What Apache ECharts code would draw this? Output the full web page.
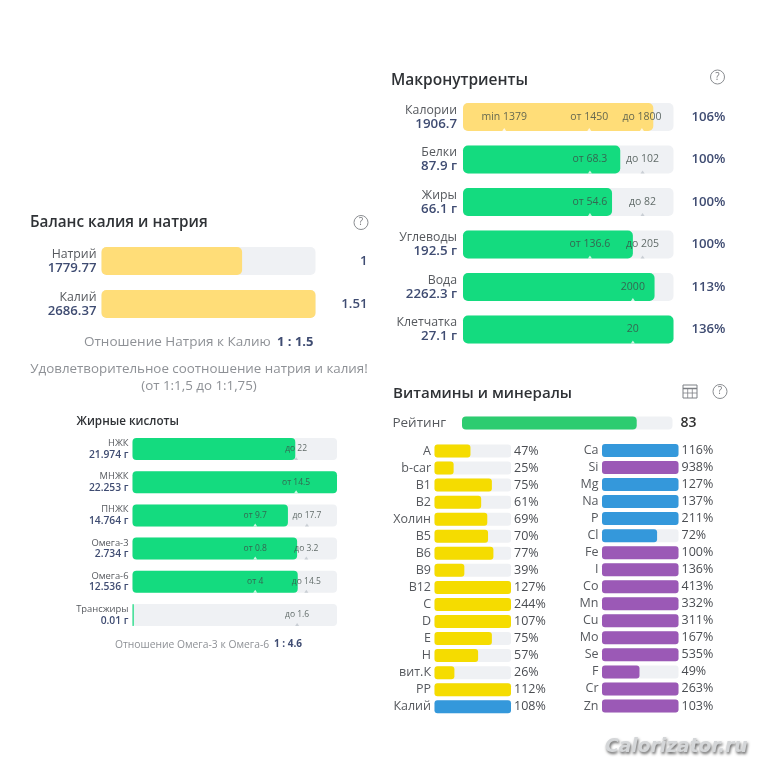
<!DOCTYPE html>
<html><head><meta charset="utf-8">
<style>html,body{margin:0;padding:0;background:#fff}#c{width:768px;height:768px}</style>
<script src="https://cdn.jsdelivr.net/npm/echarts@6/dist/echarts.min.js"></script>
</head><body><div id="c"></div>
<script>
// ---------- data ----------
const macroNames   = ['Калории','Белки','Жиры','Углеводы','Вода','Клетчатка'];
const macroAmounts = ['1906.7','87.9 г','66.1 г','192.5 г','2262.3 г','27.1 г'];
const macroFill    = [90.4,74.7,70.8,80.7,91,100];
const macroPct     = ['106%','100%','100%','100%','113%','136%'];
const macroMarkRow = [0,0,0,1,1,2,2,3,3,4,5];
const macroMarkPos = [19.6,60,85,60.3,85.3,60.3,85.3,60.3,85.3,80.7,80.7];
const macroMarkTxt = ['min 1379','от 1450','до 1800','от 68.3','до 102','от 54.6','до 82','от 136.6','до 205','2000','20'];

const balanceNames   = ['Натрий','Калий'];
const balanceAmounts = ['1779.77','2686.37'];
const balanceFill    = [65.7,100];
const balanceRight   = ['1','1.51'];

const fatNames   = ['НЖК','МНЖК','ПНЖК','Омега-3','Омега-6','Трансжиры'];
const fatAmounts = ['21.974 г','22.253 г','14.764 г','2.734 г','12.536 г','0.01 г'];
const fatFill    = [79.6,100,76,80.5,80.8,0.6];
const fatMarkRow = [0,1,2,2,3,3,4,4,5];
const fatMarkPos = [80,80,60,85.3,60,85,60,85,80.5];
const fatMarkTxt = ['до 22','от 14.5','от 9.7','до 17.7','от 0.8','до 3.2','от 4','до 14.5','до 1.6'];

const ratingValue = [83];

const vitNames = ['A','b-car','B1','B2','Холин','B5','B6','B9','B12','C','D','E','H','вит.К','PP','Калий'];
const vitPct   = [47,25,75,61,69,70,77,39,127,244,107,75,57,26,112,108];
const minNames = ['Ca','Si','Mg','Na','P','Cl','Fe','I','Co','Mn','Cu','Mo','Se','F','Cr','Zn'];
const minPct   = [116,938,127,137,211,72,100,136,413,332,311,167,535,49,263,103];
const minBlue  = ['Ca','Mg','Na','P','Cl'];

// ---------- palette ----------
const FONT='"Open Sans",sans-serif';
const TRACK='#eff1f4', GREEN='#14db7f', AMBER='#ffdd78', YEL='#f5dc00', BLUE='#3498db', PUR='#9b59b6', NAVY='#3f4c72', GREY='#56595e';

const grids=[],xAxes=[],yAxes=[],series=[];
function panel(o){
  const g=grids.length;
  grids.push({left:o.left,width:o.width,top:o.cy-o.pitch/2,height:o.pitch*o.names.length,containLabel:false});
  xAxes.push({gridIndex:g,type:'value',min:0,max:100,show:false});
  const leftLabel = o.amounts ? {
      show:true,interval:0,margin:o.margin,align:'right',fontFamily:FONT,
      formatter:(v,i)=>`{n|${v}}\n{v|${o.amounts[i]}}`,
      rich:{n:{fontFamily:FONT,fontSize:o.nameSize,color:GREY,lineHeight:o.lh,align:'right'},
            v:{fontFamily:FONT,fontSize:o.amtSize,fontWeight:600,color:NAVY,lineHeight:o.lh,align:'right'}}
    } : {show:true,interval:0,margin:o.margin,fontFamily:FONT,fontSize:o.nameSize,fontWeight:o.nameWeight||400,color:GREY};
  yAxes.push({gridIndex:g,type:'category',inverse:true,data:o.names,position:'left',
    axisLine:{show:false},axisTick:{show:false},splitLine:{show:false},axisLabel:leftLabel});
  yAxes.push({gridIndex:g,type:'category',inverse:true,data:o.right,position:'right',
    axisLine:{show:false},axisTick:{show:false},splitLine:{show:false},
    axisLabel:{show:true,interval:0,margin:o.rMargin,align:o.rAlign,fontFamily:FONT,fontSize:o.rSize,
      fontWeight:o.rWeight,color:o.rColor}});
  series.push({type:'bar',xAxisIndex:g,yAxisIndex:yAxes.length-2,data:o.fill.map((v,i)=>({value:v,itemStyle:{color:o.color(i)}})),
    barWidth:o.barH,silent:true,animation:false,showBackground:true,
    backgroundStyle:{color:TRACK,borderRadius:o.radius},itemStyle:{borderRadius:o.radius}});
  if(o.markPos){
    const yi=yAxes.length-2;
    series.push({type:'scatter',xAxisIndex:g,yAxisIndex:yi,silent:true,animation:false,z:4,
      symbol:'triangle',symbolSize:[4,3],symbolOffset:[0,o.barH/2-1.5],
      data:o.markPos.map((p,i)=>({value:[p,o.markRow[i]],
        itemStyle:{color:p<o.fill[o.markRow[i]]?'#ffffff':'#bfc5cc'}}))});
    series.push({type:'scatter',xAxisIndex:g,yAxisIndex:yi,silent:true,animation:false,z:5,
      symbolSize:1,itemStyle:{color:'transparent'},
      data:o.markPos.map((p,i)=>({value:[p,o.markRow[i]],name:o.markTxt[i]})),
      label:{show:true,position:'inside',formatter:p=>p.name,fontFamily:FONT,fontSize:o.markSize,color:'#3d4a46'}});
  }
}

panel({names:macroNames,amounts:macroAmounts,fill:macroFill,right:macroPct,left:463,width:210.5,cy:117,pitch:42.5,barH:28,radius:5,
  color:i=>i===0?AMBER:GREEN,margin:6,nameSize:12.3,amtSize:13.3,lh:14,rMargin:52,rAlign:'right',rSize:13.2,rWeight:600,rColor:NAVY,
  markRow:macroMarkRow,markPos:macroMarkPos,markTxt:macroMarkTxt,markSize:10.5});
panel({names:balanceNames,amounts:balanceAmounts,fill:balanceFill,right:balanceRight,left:101.5,width:214,cy:261,pitch:43,barH:28,radius:5,
  color:()=>AMBER,margin:5,nameSize:12.3,amtSize:13.2,lh:14,rMargin:52,rAlign:'right',rSize:13.2,rWeight:600,rColor:NAVY});
panel({names:fatNames,amounts:fatAmounts,fill:fatFill,right:['','','','','',''],left:132.5,width:204.5,cy:449,pitch:33.2,barH:22,radius:4,
  color:()=>GREEN,margin:4,nameSize:9.4,amtSize:10.3,lh:11.5,rMargin:5,rAlign:'left',rSize:10,rWeight:400,rColor:NAVY,
  markRow:fatMarkRow,markPos:fatMarkPos,markTxt:fatMarkTxt,markSize:8.5});
panel({names:['Рейтинг'],fill:ratingValue,right:ratingValue.map(String),left:462,width:210.5,cy:423,pitch:20,barH:13,radius:4,
  color:()=>'#2dcc70',margin:16,nameSize:13.5,nameWeight:500,rMargin:8,rAlign:'left',rSize:14,rWeight:600,rColor:'#333'});
panel({names:vitNames,fill:vitPct.map(v=>Math.min(v,100)),right:vitPct.map(v=>v+'%'),left:434.5,width:76.5,cy:451,pitch:17.05,barH:13,radius:3,
  color:i=>vitNames[i]==='Калий'?BLUE:YEL,margin:3.5,nameSize:12.5,rMargin:3,rAlign:'left',rSize:12.5,rWeight:400,rColor:'#4a4d52'});
panel({names:minNames,fill:minPct.map(v=>Math.min(v,100)),right:minPct.map(v=>v+'%'),left:602,width:76.5,cy:450.5,pitch:17.03,barH:13,radius:3,
  color:i=>minBlue.includes(minNames[i])?BLUE:PUR,margin:3.5,nameSize:12.5,rMargin:3,rAlign:'left',rSize:12.5,rWeight:400,rColor:'#4a4d52'});

function txt(x,y,text,size,color,weight,align){
  return {type:'text',x,y,silent:true,style:{text,fontFamily:FONT,fontSize:size,fill:color,fontWeight:weight||400,align:align||'left',verticalAlign:'middle'}};
}
function help(x,y){
  return {type:'group',x,y,silent:true,children:[
    {type:'circle',shape:{cx:0,cy:0,r:7},style:{fill:'none',stroke:'#8a8d91',lineWidth:1}},
    {type:'text',x:0,y:0,style:{text:'?',fontFamily:FONT,fontSize:10,fill:'#77797d',align:'center',verticalAlign:'middle'}}
  ]};
}
const tableIcon={type:'group',x:683,y:385,silent:true,children:[
  {type:'rect',shape:{x:0,y:0,width:14,height:13},style:{fill:'none',stroke:'#7d8085',lineWidth:1}},
  {type:'line',shape:{x1:0,y1:3.5,x2:14,y2:3.5},style:{stroke:'#7d8085',lineWidth:1.5}},
  {type:'line',shape:{x1:0,y1:8,x2:14,y2:8},style:{stroke:'#7d8085',lineWidth:.8}},
  {type:'line',shape:{x1:4.7,y1:3.5,x2:4.7,y2:13},style:{stroke:'#7d8085',lineWidth:.8}},
  {type:'line',shape:{x1:9.3,y1:3.5,x2:9.3,y2:13},style:{stroke:'#7d8085',lineWidth:.8}}
]};

const chart=echarts.init(document.getElementById('c'),null,{renderer:'canvas'});
chart.setOption({
  backgroundColor:'#fff',animation:false,
  grid:grids,xAxis:xAxes,yAxis:yAxes,series,
  graphic:[
    txt(391,80.5,'Макронутриенты',15.5,'#2f3236',600),
    txt(30,223,'Баланс калия и натрия',15.3,'#2f3236',600),
    txt(393,393.5,'Витамины и минералы',15.1,'#2f3236',600),
    txt(76.5,422,'Жирные кислоты',11.7,'#2f3236',600),
    help(717.5,77),help(361,222.5),help(720,391.5),tableIcon,
    txt(84,342.5,'Отношение Натрия к Калию',13.5,'#8e9196'),
    txt(277,342.5,'1 : 1.5',13,NAVY,700),
    txt(199,369.5,'Удовлетворительное соотношение натрия и калия!',13.35,'#8e9196',400,'center'),
    txt(199,386,'(от 1:1,5 до 1:1,75)',13.35,'#8e9196',400,'center'),
    txt(115,645,'Отношение Омега-3 к Омега-6',10.3,'#8e9196'),
    txt(274,644.5,'1 : 4.6',10,NAVY,700),
    {type:'text',x:605,y:747,silent:true,style:{text:'Calorizator.ru',fontFamily:'"DejaVu Sans"',fontStyle:'italic',fontWeight:700,fontSize:18.7,
      fill:'#d4d6d8',verticalAlign:'middle',textShadowColor:'#666',textShadowBlur:3,textShadowOffsetX:1,textShadowOffsetY:2}}
  ]
});
</script></body></html>
